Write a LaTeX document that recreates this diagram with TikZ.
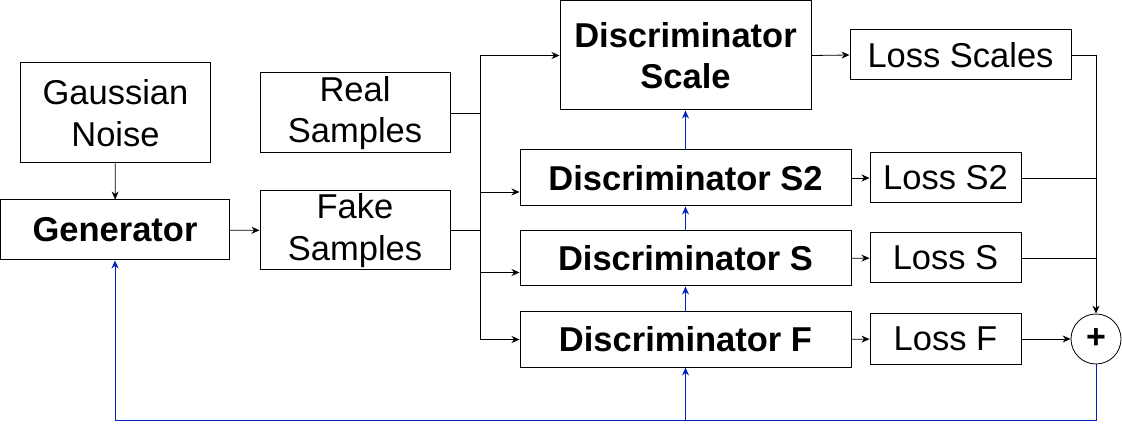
\documentclass[tikz,border=0pt]{standalone}
\usepackage{fontspec}
\setmainfont{Liberation Sans}
\usetikzlibrary{arrows.meta,positioning}
\definecolor{fbblue}{RGB}{0,34,190}
\begin{document}
\begin{tikzpicture}[x=1pt,y=-1pt,
    box/.style={draw,line width=1pt,inner sep=0pt,align=center,
        font=\fontsize{34.5}{41.5}\selectfont},
    boldbox/.style={box,font=\fontsize{34.5}{41.5}\selectfont\bfseries},
    link/.style={line width=0.8pt,-{Stealth[length=8pt,width=7pt]}},
    fbline/.style={line width=1pt,draw=fbblue,-{Stealth[length=8pt,width=7pt]}}]
    \useasboundingbox (0,0) rectangle (1122,430);
    \node[box,minimum width=190,minimum height=100] (noise) at (115.5,113) {Gaussian\\Noise};
    \node[boldbox,minimum width=229,minimum height=60] (gen) at (115,230) {Generator};
    \node[box,minimum width=190,minimum height=80] (real) at (355,113) {Real\\Samples};
    \node[box,minimum width=190,minimum height=79] (fake) at (355,230.5) {Fake\\Samples};
    \node[boldbox,minimum width=251,minimum height=109] (dscale) at (685.5,55.5) {Discriminator\\Scale};
    \node[boldbox,minimum width=331,minimum height=56] (ds2) at (685.5,178) {Discriminator S2};
    \node[boldbox,minimum width=331,minimum height=55] (dss) at (685.5,258.5) {Discriminator S};
    \node[boldbox,minimum width=331,minimum height=55] (dsf) at (685.5,339.5) {Discriminator F};
    \node[box,minimum width=221,minimum height=50] (lscale) at (960.5,55) {Loss Scales};
    \node[box,minimum width=151,minimum height=50] (ls2) at (945.5,178) {Loss S2};
    \node[box,minimum width=151,minimum height=50] (lss) at (945.5,258) {Loss S};
    \node[box,minimum width=151,minimum height=50] (lsf) at (945.5,339) {Loss F};
    \node[draw,circle,line width=0.8pt,minimum size=50,inner sep=0pt,
        font=\fontsize{34}{34}\selectfont\bfseries] (plus) at (1096,339) {+};
    \coordinate (bus) at (480,0);
    \coordinate (fb) at (0,420);
    \coordinate (in2) at ([yshift=-14pt]ds2.west);
    \coordinate (ins) at ([yshift=-14pt]dss.west);
    % generator side
    \draw[link] (noise) -- (gen);
    \draw[link] (gen) -- (fake);
    \draw[line width=0.8pt] (real.east) -- (real.east -| bus);
    \draw[line width=0.8pt] (fake.east) -- (fake.east -| bus);
    \draw[link] (bus |- dscale.west) -- (dscale.west);
    \draw[link] (bus |- dscale.west) |- (dsf.west);
    \draw[link] (in2 -| bus) -- (in2);
    \draw[link] (ins -| bus) -- (ins);
    % losses
    \draw[link] (dscale.east) -- (lscale.west);
    \draw[link] (ds2) -- (ls2);
    \draw[link] (dss) -- (lss);
    \draw[link] (dsf) -- (lsf);
    \draw[link] (lscale.east) -| (plus.north);
    \draw[line width=0.8pt] (ls2.east) -- (ls2.east -| plus);
    \draw[line width=0.8pt] (lss.east) -- (lss.east -| plus);
    \draw[link] (lsf) -- (plus);
    % feedback
    \draw[fbline] (plus.south) |- (gen.south |- fb) -- (gen.south);
    \draw[fbline] (dsf.south |- fb) -- (dsf.south);
    \draw[fbline] (dsf) -- (dss);
    \draw[fbline] (dss) -- (ds2);
    \draw[fbline] (ds2) -- (dscale);
\end{tikzpicture}
\end{document}
